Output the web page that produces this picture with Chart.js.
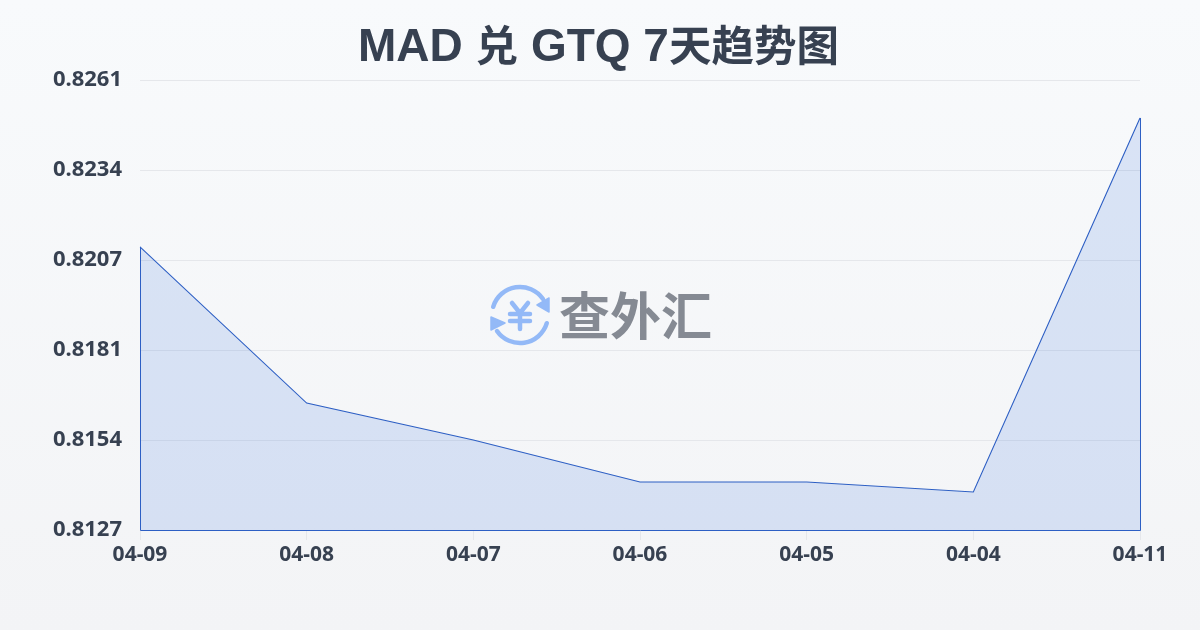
<!DOCTYPE html>
<html lang="zh">
<head>
<meta charset="utf-8">
<script src="https://cdn.jsdelivr.net/npm/chart.js@4"></script>
<style>
html,body{margin:0;padding:0;width:1200px;height:630px;overflow:hidden}
body{background:linear-gradient(180deg,#f8fafc 0%,#f3f4f6 100%);position:relative}
#c{position:absolute;left:0;top:0}
#ttl{position:absolute;left:0;top:13px;width:1197px;text-align:center;font:700 46px/60px "Liberation Sans";color:#374151}
#ttl span{font:700 42.5px/60px "Noto Sans CJK SC"}
#wm{position:absolute;left:480px;top:275px;width:80px;height:80px}
#wt{position:absolute;left:559px;top:280px;font:700 51px/66px "Noto Sans CJK SC";color:#858a93}
</style>
</head>
<body>
<canvas id="c" width="1200" height="630"></canvas>
<div id="ttl"></div>
<svg id="wm" viewBox="0 0 80 80" fill="none" stroke="#93b9f7" stroke-width="4.5" stroke-linecap="round" stroke-linejoin="round">
<path d="M13.2 31.8A28 28 0 0 1 63 24"/><path d="M66.8 48.2A28 28 0 0 1 17 56"/>
<path d="M69 23V37L57 30Z" fill="#93b9f7" stroke-width="1.5"/><path d="M11 42V55L25 48Z" fill="#93b9f7" stroke-width="1.5"/>
<path d="M32 28L40 38L48 28M30 39H50M30 46H50M40 38V54"/>
</svg>
<div id="wt">查外汇</div>
<script>
const categories = ['04-09','04-08','04-07','04-06','04-05','04-04','04-11'];
const rates = [0.82113,0.81648,0.81538,0.81413,0.81413,0.81383,0.82497];
const yTicks = [0.8127,0.815379,0.818059,0.820739,0.823419,0.8261];
const titleText = 'MAD 兑 GTQ 7天趋势图';
const lineColor = '#2d5fc4';
const ttl = document.getElementById('ttl');
for (const part of titleText.split(/([\u4e00-\u9fff]+)/)) {
  if (!part) continue;
  if (/[\u4e00-\u9fff]/.test(part)) { const s = document.createElement('span'); s.textContent = part; ttl.appendChild(s); }
  else ttl.appendChild(document.createTextNode(part));
}
const closeOutline = {
  id:'closeOutline',
  afterDatasetsDraw(chart){
    const pts = chart.getDatasetMeta(0).data, a = chart.chartArea, g = chart.ctx;
    const first = pts[0], last = pts[pts.length-1];
    g.save(); g.strokeStyle = lineColor; g.lineWidth = 1; g.beginPath();
    g.moveTo(first.x+0.5,first.y); g.lineTo(a.left+0.5,a.bottom+0.5); g.lineTo(a.right+0.5,a.bottom+0.5); g.lineTo(last.x+0.5,last.y);
    g.stroke(); g.restore();
  }
};
new Chart(document.getElementById('c'),{
  type:'line',
  data:{labels:categories,datasets:[{data:rates,borderColor:lineColor,borderWidth:1.1,backgroundColor:'rgba(37,99,220,0.14)',fill:true,tension:0,pointRadius:0}]},
  plugins:[closeOutline],
  options:{
    responsive:false,animation:false,
    layout:{padding:{left:0,right:60,top:80,bottom:0}},
    plugins:{legend:{display:false},tooltip:{enabled:false},title:{display:false}},
    scales:{
      x:{offset:false,border:{display:false},
        grid:{drawOnChartArea:false,color:'#e5e7eb',tickLength:10},
        ticks:{color:'#374151',font:{family:'"Noto Sans"',size:21,weight:'700'},padding:2,maxRotation:0,autoSkip:false},
        afterFit(s){s.height=100;}},
      y:{min:0.8127,max:0.8261,border:{display:false},
        grid:{color:'#e5e7eb',drawTicks:false},
        afterBuildTicks(s){s.ticks=yTicks.map(v=>({value:v}));},
        ticks:{color:'#374151',font:{family:'"Noto Sans"',size:22,weight:'700'},padding:18,callback:v=>v.toFixed(4)},
        afterFit(s){s.width=140;}}
    }
  }
});
</script>
</body>
</html>
